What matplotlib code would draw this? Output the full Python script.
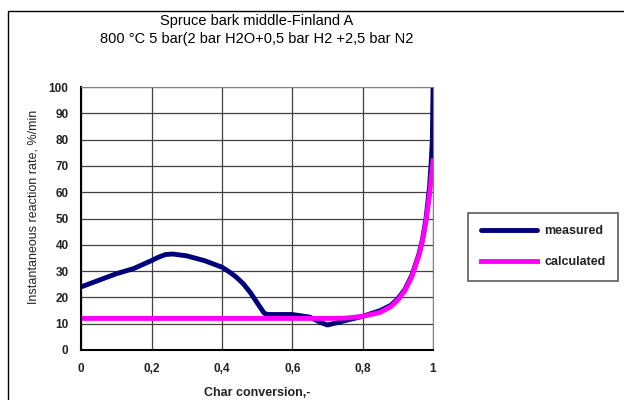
import numpy as np
import matplotlib
matplotlib.use('Agg')
import matplotlib.pyplot as plt
from matplotlib.patches import Rectangle

plt.rcParams['font.family'] = ['Liberation Sans', 'DejaVu Sans']

# measured curve
meas_x = [0, 0.05, 0.1, 0.15, 0.2, 0.22, 0.24, 0.26, 0.3, 0.35, 0.4, 0.42, 0.44,
          0.46, 0.48, 0.5, 0.52, 0.53, 0.6, 0.65, 0.68, 0.7, 0.73, 0.76, 0.8,
          0.85, 0.88, 0.9, 0.92, 0.94, 0.96, 0.97, 0.98, 0.99, 0.995, 0.998, 1.0]
meas_y = [24, 26.5, 29, 31, 34, 35.3, 36.3, 36.5, 35.8, 34, 31.5, 29.8, 27.8,
          25.3, 22, 18, 14, 13.5, 13.5, 12.5, 10.5, 9.5, 10.5, 11.5, 12.8,
          15, 17, 19.5, 23, 28.5, 36.5, 42, 50, 62, 72, 80, 100]

# calculated curve
calc_x = [0, 0.7, 0.75, 0.8, 0.85, 0.88, 0.9, 0.92, 0.94, 0.96, 0.97, 0.98, 0.99, 1.0]
calc_y = [12, 12, 12.1, 12.8, 14.3, 16.5, 19, 22.5, 28, 36, 41.5, 49, 59, 72]

fig = plt.figure(figsize=(6.24, 4.0), dpi=100)
ax = fig.add_axes([0.13, 0.125, 0.564, 0.6575])

ax.plot(meas_x, meas_y, color='#00007a', lw=3.5, label='measured',
        solid_capstyle='round', solid_joinstyle='round')
ax.plot(calc_x, calc_y, color='#ff00ff', lw=3.5, label='calculated',
        solid_joinstyle='round')

ax.set_xlim(0, 1)
ax.set_ylim(0, 100)
ax.set_xticks([0, 0.2, 0.4, 0.6, 0.8, 1])
ax.set_xticklabels(['0', '0,2', '0,4', '0,6', '0,8', '1'])
ax.set_yticks(range(0, 101, 10))
ax.grid(True, color='#404040', lw=0.9)
ax.tick_params(length=0, labelsize=8.5, pad=9)
for lbl in ax.get_xticklabels() + ax.get_yticklabels():
    lbl.set_fontweight('bold')
    lbl.set_color('#222222')
for s in ['top', 'right']:
    ax.spines[s].set_color('#808080')
for s in ['left', 'bottom']:
    ax.spines[s].set_linewidth(1.5)

ax.set_xlabel('Char conversion,-', fontsize=9, fontweight='bold', color='#222222')
ax.xaxis.set_label_coords(0.5, -0.14)
ax.set_ylabel('Instantaneous reaction rate, %/min', fontsize=9, color='#222222')
ax.yaxis.set_label_coords(-0.136, 0.545)
ax.yaxis.label.set_va('center')

fig.text(257/624, 1 - 21/400, 'Spruce bark middle-Finland A', fontsize=10.5,
         ha='center', va='center')
fig.text(257/624, 1 - 39/400, '800 \u00b0C 5 bar(2 bar H2O+0,5 bar H2 +2,5 bar N2',
         fontsize=10.5, ha='center', va='center')

leg = fig.legend(loc='upper left', bbox_to_anchor=(468/624, 1 - 213/400), fontsize=9,
                 frameon=True, fancybox=False, handlelength=4.5, handletextpad=0.6,
                 borderpad=1.0, labelspacing=1.5, borderaxespad=0)
leg.get_frame().set_edgecolor('#333333')
leg.get_frame().set_linewidth(1.2)
for t in leg.get_texts():
    t.set_fontweight('bold')
    t.set_color('#222222')

fig.patches.append(Rectangle((8/624, -0.1), 1.1, 1.1 - 11/400, transform=fig.transFigure,
                             fill=False, edgecolor='black', lw=1.0))

fig.savefig('out.png', dpi=100)
